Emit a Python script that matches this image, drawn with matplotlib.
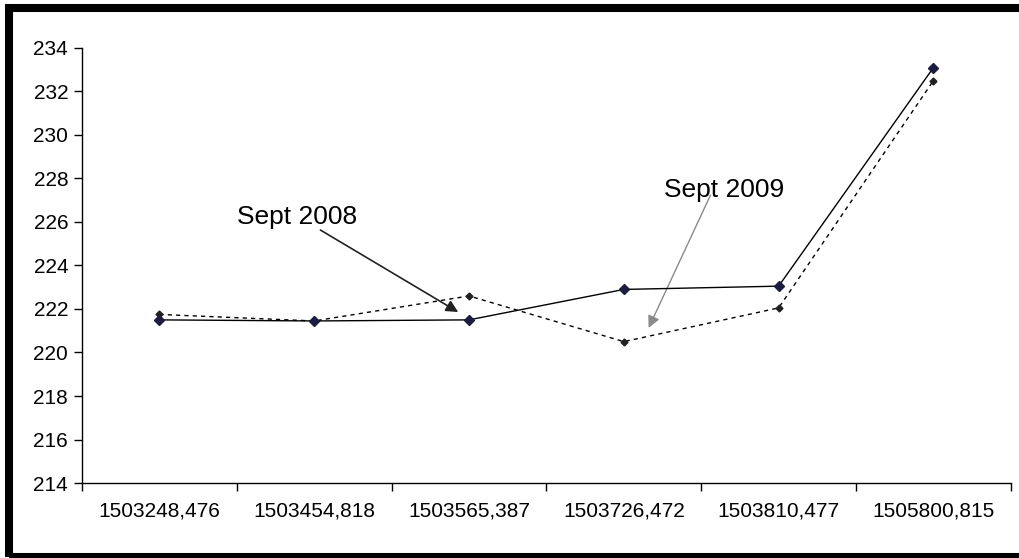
import numpy as np
import matplotlib
matplotlib.use("Agg")
import matplotlib.pyplot as plt
from matplotlib.patches import Rectangle

plt.rcParams['font.family'] = ['Liberation Sans', 'DejaVu Sans']

categories = ["1503248,476", "1503454,818", "1503565,387",
              "1503726,472", "1503810,477", "1505800,815"]
solid_values = [221.5, 221.45, 221.5, 222.9, 223.05, 233.1]
dashed_values = [221.75, 221.45, 222.6, 220.5, 222.05, 232.5]
y_ticks = list(range(214, 235, 2))

x = np.arange(len(categories))

fig = plt.figure(figsize=(10.19, 5.58), dpi=100)
ax = fig.add_axes([0.0805, 0.1344, 0.9115, 0.7796])

ax.plot(x, dashed_values, color="black", lw=1.0, ls=(0, (3, 3)),
        marker="D", markersize=3.5, markerfacecolor="#202020",
        markeredgecolor="#202020", zorder=3)
ax.plot(x, solid_values, color="black", lw=1.0,
        marker="D", markersize=5.5, markerfacecolor="#1c1c40",
        markeredgecolor="#1c1c40", zorder=4)

ax.set_xlim(-0.5, len(categories) - 0.5)
ax.set_ylim(214, 234)
ax.set_yticks(y_ticks)
ax.set_yticklabels([str(v) for v in y_ticks], fontsize=15)
ax.set_xticks(np.arange(-0.5, len(categories), 1.0))
ax.set_xticklabels([])
ax.set_xticks(x, minor=True)
ax.set_xticklabels(categories, minor=True, fontsize=15)
ax.tick_params(axis="x", which="major", direction="out", length=6, width=1)
ax.tick_params(axis="x", which="minor", length=0, pad=13)
ax.tick_params(axis="y", direction="out", length=6, width=1, pad=4)

for side in ["top", "right"]:
    ax.spines[side].set_visible(False)
for side in ["left", "bottom"]:
    ax.spines[side].set_linewidth(1.0)

# annotations
ax.annotate("", xy=(1.93, 221.86), xytext=(1.04, 225.63),
            arrowprops=dict(arrowstyle="-|>", color="#222222", lw=1.2,
                            mutation_scale=18, shrinkA=0, shrinkB=0))
ax.text(0.89, 226.23, "Sept 2008", fontsize=19, ha="center", va="center")

ax.annotate("", xy=(3.16, 221.13), xytext=(3.56, 227.24),
            arrowprops=dict(arrowstyle="-|>", color="#8a8a8a", lw=1.0,
                            mutation_scale=18, shrinkA=0, shrinkB=0))
ax.text(3.65, 227.47, "Sept 2009", fontsize=19, ha="center", va="center",
        zorder=5)

# thick frame around the picture (right side is cut off)
fig.add_artist(Rectangle((9 / 1019, 1 / 558), 1030 / 1019, 549 / 558,
                         transform=fig.transFigure, fill=False,
                         edgecolor="black", lw=5.8, clip_on=False))

fig.savefig("out.png", dpi=100)
